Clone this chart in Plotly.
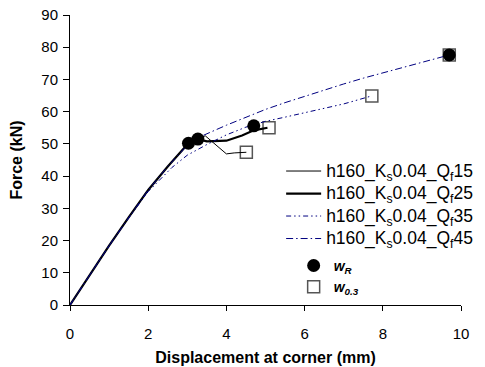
import plotly.graph_objects as go

# Data
q15_x = [0, 0.5, 1, 1.5, 2, 2.5, 3.03, 3.25, 3.46, 4.0, 4.2, 4.51]
q15_y = [0, 9.3, 18.4, 27.2, 35.7, 43.0, 50.2, 51.6, 52.5, 46.9, 47.2, 47.4]

q25_x = [0, 0.5, 1, 1.5, 2, 2.5, 3.03, 3.27, 3.5, 4.0, 4.4, 4.7, 5.05]
q25_y = [0, 9.3, 18.4, 27.2, 35.7, 43.0, 50.2, 51.5, 50.8, 51.0, 52.6, 54.2, 55.0]

q35_x = [0, 0.5, 1, 1.5, 2, 2.6, 3.0, 3.5, 4.0, 4.5, 5.0, 5.5, 6.0, 6.5, 7.0, 7.72]
q35_y = [0, 9.3, 18.4, 27.0, 35.2, 42.6, 46.5, 49.8, 52.8, 55.2, 57.0, 58.3, 59.6, 61.0, 62.4, 64.9]

q45_x = [0, 1, 2, 2.5, 3.0, 3.4, 4.0, 4.5, 5.0, 5.5, 6.0, 6.5, 7.0, 7.5, 8.0, 8.5, 9.0, 9.7]
q45_y = [0, 18.4, 35.7, 43.0, 49.6, 52.6, 55.8, 58.3, 60.7, 62.8, 64.8, 66.7, 68.6, 70.4, 72.1, 73.7, 75.3, 77.6]

wr_x = [3.03, 3.27, 4.70, 9.70]
wr_y = [50.2, 51.5, 55.6, 77.6]

w03_x = [4.51, 5.09, 7.72, 9.70]
w03_y = [47.4, 55.0, 64.9, 77.6]

x_ticks = [0, 2, 4, 6, 8, 10]
y_ticks = [0, 10, 20, 30, 40, 50, 60, 70, 80, 90]

FONT = "Liberation Sans, Arial, sans-serif"
NAVY = "#000080"


def series_name(q):
    return ('<span style="font-size:17.5px">h160_K<sub>s</sub>0.04_Q<sub>f</sub>%s</span>' % q)


fig = go.Figure()

fig.add_trace(go.Scatter(x=w03_x, y=w03_y, mode="markers", name="<b><i>w</i></b><sub><b><i>0.3</i></b></sub>",
                         marker=dict(symbol="square", size=12, color="white",
                                     line=dict(color="#555555", width=1.5)),
                         legend="legend2", legendrank=2))
fig.add_trace(go.Scatter(x=q15_x, y=q15_y, mode="lines", name=series_name("15"),
                         line=dict(color="black", width=1), legendrank=1))
fig.add_trace(go.Scatter(x=q25_x, y=q25_y, mode="lines", name=series_name("25"),
                         line=dict(color="black", width=2.2), legendrank=2))
fig.add_trace(go.Scatter(x=q35_x, y=q35_y, mode="lines", name=series_name("35"),
                         line=dict(color=NAVY, width=1, dash="5px,3px,1.5px,3px,1.5px,3px"), legendrank=3))
fig.add_trace(go.Scatter(x=q45_x, y=q45_y, mode="lines", name=series_name("45"),
                         line=dict(color=NAVY, width=1, dash="7px,3px,1.5px,3px"), legendrank=4))
fig.add_trace(go.Scatter(x=wr_x, y=wr_y, mode="markers", name="<b><i>w</i></b><sub><b><i>R</i></b></sub>",
                         marker=dict(symbol="circle", size=13, color="black"),
                         legend="legend2", legendrank=1))

fig.update_layout(
    width=477, height=359,
    margin=dict(l=62, r=10, t=7, b=62),
    paper_bgcolor="white", plot_bgcolor="white",
    font=dict(family=FONT, size=15, color="black"),
    showlegend=True,
    legend=dict(x=0.54, y=0.518, xanchor="left", yanchor="top",
                bgcolor="rgba(0,0,0,0)", font=dict(size=15, family=FONT),
                itemwidth=35, tracegroupgap=0, traceorder="normal"),
    legend2=dict(x=0.572, y=0.19, xanchor="left", yanchor="top",
                 bgcolor="rgba(0,0,0,0)", font=dict(size=14, family=FONT),
                 itemwidth=30, traceorder="normal"),
    xaxis=dict(range=[0, 10], tickvals=x_ticks, ticks="outside", ticklen=5,
               tickcolor="black", showline=True, linecolor="black", linewidth=1,
               showgrid=False, zeroline=False, tickfont=dict(size=15),
               ticklabelstandoff=10, ticklabeloverflow="allow", automargin=False,
               title=dict(text="<b>Displacement at corner (mm)</b>", font=dict(size=16), standoff=10)),
    yaxis=dict(range=[0, 90], tickvals=y_ticks, ticks="outside", ticklen=6,
               tickcolor="black", showline=True, linecolor="black", linewidth=1,
               showgrid=False, zeroline=False, tickfont=dict(size=15),
               ticklabelstandoff=2, ticklabeloverflow="allow", automargin=False,
               title=dict(text="<b>Force (kN)</b>", font=dict(size=16), standoff=14)),
)

fig.write_html("out.html")
